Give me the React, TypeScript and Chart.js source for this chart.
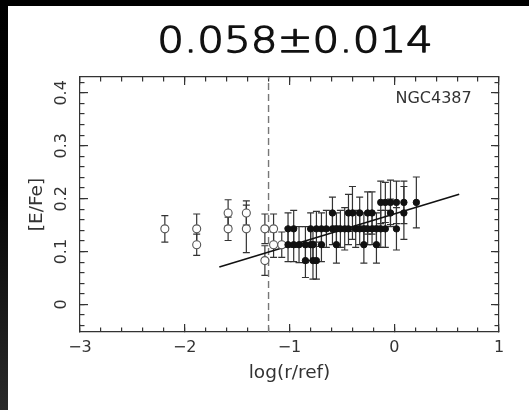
import React, { useEffect, useRef } from 'react';
import { Chart, registerables } from 'chart.js';

Chart.register(...registerables);

// ---- texts ----
const titleText = '0.058±0.014';
const galaxyLabel = 'NGC4387';
const xTitle = 'log(r/ref)';
const yTitle = '[E/Fe]';

// ---- axes ----
const xMin = -3;
const xMax = 1;
const yMin = -0.052;
const yMax = 0.43;
const xMajorStep = 1;
const xMinorStep = 0.2;
const yMajorStep = 0.1;
const yMinorStep = 0.02;

// ---- reference lines ----
const cutX = -1.2;
const fitX = [-1.67, 0.62];
const fitY = [0.071, 0.2085];

// ---- inner (open) points ----
const innerX = [-2.19, -1.886, -1.886, -1.586, -1.586, -1.412, -1.412, -1.235, -1.235, -1.152, -1.152, -1.074];
const innerY = [0.143, 0.143, 0.113, 0.173, 0.143, 0.173, 0.143, 0.143, 0.083, 0.143, 0.113, 0.113];
const innerErr = [0.025, 0.028, 0.02, 0.025, 0.022, 0.023, 0.045, 0.028, 0.028, 0.028, 0.024, 0.024];

// ---- outer (filled) points ----
const outerX = [
  -1.014, -1.014, -0.96, -0.96, -0.909, -0.848, -0.848, -0.798, -0.798, -0.776,
  -0.776, -0.743, -0.743, -0.695, -0.695, -0.648, -0.59, -0.59, -0.552, -0.552,
  -0.514, -0.473, -0.437, -0.437, -0.399, -0.368, -0.33, -0.33, -0.29, -0.29,
  -0.254, -0.254, -0.212, -0.212, -0.17, -0.17, -0.129, -0.129, -0.085, -0.085,
  -0.036, -0.036, 0.021, 0.021, 0.092, 0.092, 0.211,
];
const outerY = [
  0.143, 0.113, 0.143, 0.113, 0.113, 0.113, 0.083, 0.143, 0.113, 0.113,
  0.083, 0.143, 0.083, 0.143, 0.113, 0.143, 0.173, 0.143, 0.143, 0.113,
  0.143, 0.143, 0.173, 0.143, 0.173, 0.143, 0.173, 0.143, 0.143, 0.113,
  0.173, 0.143, 0.173, 0.143, 0.143, 0.113, 0.193, 0.143, 0.193, 0.143,
  0.193, 0.173, 0.193, 0.143, 0.193, 0.173, 0.193,
];
const outerErr = [
  0.03, 0.032, 0.035, 0.032, 0.034, 0.034, 0.032, 0.03, 0.03, 0.03,
  0.035, 0.033, 0.035, 0.03, 0.032, 0.035, 0.03, 0.03, 0.03, 0.035,
  0.035, 0.04, 0.035, 0.03, 0.05, 0.035, 0.03, 0.03, 0.03, 0.035,
  0.04, 0.03, 0.04, 0.03, 0.03, 0.035, 0.04, 0.035, 0.038, 0.035,
  0.042, 0.026, 0.04, 0.04, 0.04, 0.05, 0.048,
];

const FONT = '"DejaVu Sans", "Liberation Sans", sans-serif';
const AXIS_COLOR = '#333';

const errorBarPlugin = {
  id: 'errorBars',
  beforeDatasetsDraw(chart: any) {
    const { ctx } = chart;
    const xs = chart.scales.x;
    const ys = chart.scales.y;
    ctx.save();
    ctx.lineWidth = 1.2;
    ctx.strokeStyle = '#333';
    const draw = (X: number[], Y: number[], E: number[]) => {
      for (let i = 0; i < X.length; i++) {
        const px = xs.getPixelForValue(X[i]);
        const top = ys.getPixelForValue(Y[i] + E[i]);
        const bot = ys.getPixelForValue(Y[i] - E[i]);
        ctx.beginPath();
        ctx.moveTo(px, top);
        ctx.lineTo(px, bot);
        ctx.moveTo(px - 3.5, top);
        ctx.lineTo(px + 3.5, top);
        ctx.moveTo(px - 3.5, bot);
        ctx.lineTo(px + 3.5, bot);
        ctx.stroke();
      }
    };
    draw(innerX, innerY, innerErr);
    draw(outerX, outerY, outerErr);
    ctx.restore();
  },
};

const textPlugin = {
  id: 'texts',
  afterDraw(chart: any) {
    const { ctx, chartArea } = chart;
    ctx.save();
    ctx.fillStyle = '#111';
    ctx.strokeStyle = '#111';
    ctx.lineWidth = 1.3;
    ctx.lineJoin = 'round';
    ctx.font = `300 35px ${FONT}`;
    ctx.textAlign = 'center';
    ctx.textBaseline = 'alphabetic';
    ctx.translate((chartArea.left + chartArea.right) / 2 + 5.5, chartArea.top - 24.7);
    ctx.scale(1.2, 1);
    ctx.fillText(titleText, 0, 0);
    ctx.strokeText(titleText, 0, 0);
    ctx.restore();

    ctx.save();
    ctx.fillStyle = AXIS_COLOR;
    ctx.font = `16px ${FONT}`;
    ctx.textAlign = 'right';
    ctx.textBaseline = 'alphabetic';
    ctx.fillText(galaxyLabel, chartArea.right - 27.3, chartArea.top + 26.3);
    ctx.restore();
  },
};

const MAJOR = -8;
const MINOR = -4.5;

function tickAxis(axis: 'x' | 'y', position: string, step: number, len: number, border: boolean, weight: number) {
  const isX = axis === 'x';
  return {
    type: 'linear',
    axis,
    position,
    weight,
    min: isX ? xMin : yMin,
    max: isX ? xMax : yMax,
    ticks: { stepSize: step, display: false, includeBounds: false },
    grid: { drawOnChartArea: false, tickLength: len, color: AXIS_COLOR, lineWidth: 1.2 },
    border: { display: border, color: AXIS_COLOR, width: 1.2 },
    afterFit: (s: any) => {
      if (isX) s.height = 0;
      else s.width = 0;
    },
  };
}

export default function App() {
  const ref = useRef<HTMLCanvasElement>(null);

  useEffect(() => {
    if (!ref.current) return;
    const minus = (v: number) => (v < 0 ? '\u2212' + String(Math.abs(v)) : String(v));
    const chart = new Chart(ref.current, {
      type: 'scatter',
      data: {
        datasets: [
          {
            label: 'outer',
            data: outerX.map((x, i) => ({ x, y: outerY[i] })),
            pointRadius: 3.2,
            pointBackgroundColor: '#111',
            pointBorderColor: '#111',
            pointBorderWidth: 1,
          },
          {
            label: 'inner',
            data: innerX.map((x, i) => ({ x, y: innerY[i] })),
            pointRadius: 4,
            pointBackgroundColor: '#fff',
            pointBorderColor: '#555',
            pointBorderWidth: 1.1,
          },
          {
            type: 'line',
            label: 'fit',
            data: fitX.map((x, i) => ({ x, y: fitY[i] })),
            borderColor: '#111',
            borderWidth: 1.6,
            pointRadius: 0,
            fill: false,
          },
          {
            type: 'line',
            label: 'cut',
            data: [
              { x: cutX, y: yMin },
              { x: cutX, y: yMax },
            ],
            borderColor: '#777',
            borderWidth: 1.4,
            borderDash: [7, 4],
            pointRadius: 0,
            fill: false,
          },
        ] as any,
      },
      options: {
        animation: false,
        responsive: false,
        devicePixelRatio: 1,
        events: [],
        layout: { padding: { top: 71, right: 30, bottom: 0, left: 0 } },
        plugins: { legend: { display: false }, tooltip: { enabled: false }, title: { display: false } },
        scales: {
          x: {
            type: 'linear',
            position: 'bottom',
            weight: 1,
            min: xMin,
            max: xMax,
            ticks: {
              stepSize: xMajorStep,
              font: { family: FONT, size: 16 },
              color: AXIS_COLOR,
              padding: 14,
              maxRotation: 0,
              callback: (v: any) => minus(Number(v)),
            },
            grid: { drawOnChartArea: false, tickLength: MAJOR, color: AXIS_COLOR, lineWidth: 1.2 },
            border: { display: true, color: AXIS_COLOR, width: 1.2 },
            title: {
              display: true,
              text: xTitle,
              font: { family: FONT, size: 18.5 },
              color: AXIS_COLOR,
              padding: { top: 0, bottom: 26 },
            },
            afterFit: (s: any) => {
              s.height = 78;
            },
          },
          xMinor: tickAxis('x', 'bottom', xMinorStep, MINOR, false, 0),
          xTop: tickAxis('x', 'top', xMajorStep, MAJOR, true, 1),
          xTopMinor: tickAxis('x', 'top', xMinorStep, MINOR, false, 0),
          y: {
            type: 'linear',
            position: 'left',
            weight: 1,
            min: yMin,
            max: yMax,
            ticks: {
              stepSize: yMajorStep,
              includeBounds: false,
              minRotation: 90,
              maxRotation: 90,
              crossAlign: 'center',
              padding: 13.6,
              font: { family: FONT, size: 16 },
              color: AXIS_COLOR,
            },
            grid: { drawOnChartArea: false, tickLength: MAJOR, color: AXIS_COLOR, lineWidth: 1.2 },
            border: { display: true, color: AXIS_COLOR, width: 1.2 },
            title: {
              display: true,
              text: yTitle,
              font: { family: FONT, size: 18.5 },
              color: AXIS_COLOR,
              padding: { top: 18, bottom: 0 },
            },
            afterFit: (s: any) => {
              s.width = 72;
            },
          },
          yMinor: tickAxis('y', 'left', yMinorStep, MINOR, false, 0),
          yRight: tickAxis('y', 'right', yMajorStep, MAJOR, true, 1),
          yRightMinor: tickAxis('y', 'right', yMinorStep, MINOR, false, 0),
        } as any,
      },
      plugins: [errorBarPlugin, textPlugin],
    } as any);
    return () => chart.destroy();
  }, []);

  return (
    <div
      style={{
        position: 'fixed',
        left: 0,
        top: 0,
        width: 529,
        height: 410,
        background: 'linear-gradient(to bottom, #000 0%, #050505 45%, #2a2a2a 100%)',
      }}
    >
      <div style={{ position: 'absolute', left: 8, top: 6, width: 521, height: 404, background: '#fff' }}>
        <canvas ref={ref} width={521} height={404} style={{ display: 'block' }} />
      </div>
    </div>
  );
}
